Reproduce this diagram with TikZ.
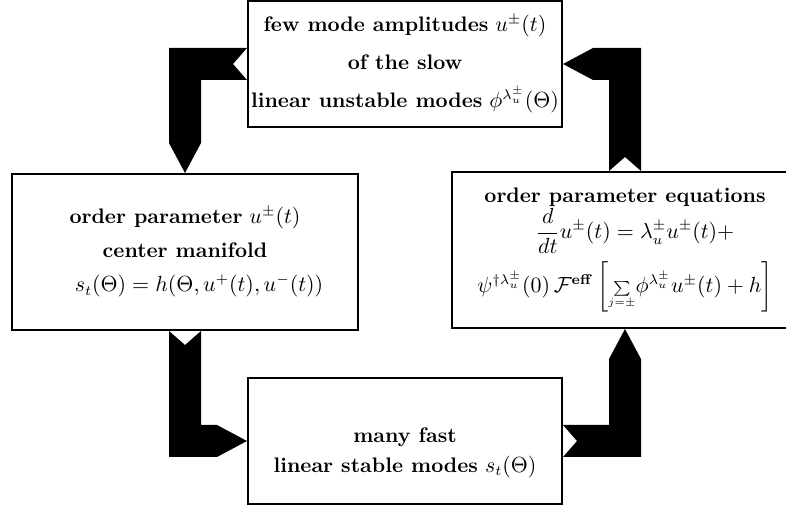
\documentclass[tikz,border=0pt]{standalone}
\usepackage{amsmath}
\usepackage{amssymb}
\usepackage{tikz}
\usetikzlibrary{calc, positioning}

\begin{document}
\begin{tikzpicture}[x=0.5pt, y=-0.5pt, every node/.style={font=\fontsize{10.5pt}{12.6pt}\selectfont}]
    \tikzset{
      modebox/.style={rectangle, draw=black, line width=1pt, fill=white,
                      align=center, inner sep=0pt},
      flow/.style={fill=black}}
    \useasboundingbox (0,0) rectangle (786,506);
    \node[modebox, minimum width=157pt, minimum height=63pt] (slow) at (405,64)
      {\textbf{few mode amplitudes} $u^{\pm}(t)$\\[6.3pt]
       \textbf{of the slow}\\[6.3pt]
       \textbf{linear unstable modes} $\phi^{\lambda_u^{\pm}}(\Theta)$};
    \node[modebox, minimum width=173pt, minimum height=78pt] (manifold) at (185,252)
      {\textbf{order parameter} $u^{\pm}(t)$\\[4.5pt]
       \textbf{center manifold}\\[4.5pt]
       \hspace*{14pt}$s_t(\Theta)=h(\Theta,u^{+}(t),u^{-}(t))$};
    \node[modebox, minimum width=173pt, minimum height=78pt] (opeq) at (625,250)
      {\textbf{order parameter equations}\\[0pt]
       \hspace*{10pt}$\displaystyle\frac{d}{dt}u^{\pm}(t)=\lambda_u^{\pm}u^{\pm}(t)+$\\[3pt]
       $\psi^{\dagger\lambda_u^{\pm}}(0)\,\mathcal{F}^{\mathbf{eff}}
        \left[{\scriptstyle\sum\limits_{j=\pm}}\phi^{\lambda_u^{\pm}}u^{\pm}(t)+h\right]$};
    \node[modebox, minimum width=157pt, minimum height=63pt] (fast) at (405,441)
      {\rule{0pt}{19pt}\textbf{many fast}\\[2.5pt]
       \textbf{linear stable modes} $s_t(\Theta)$};
    % slow modes -> center manifold
    \fill[flow] let \p1=(slow.west), \p2=(manifold.north) in
      (\x1,\y1+8pt) -- (\x2-8pt,\y1+8pt) -- (\x2-8pt,\y2+15pt) -- (\x2,\y2)
      -- (\x2+8pt,\y2+15pt) -- (\x2+8pt,\y1-8pt) -- (\x1,\y1-8pt) -- (\x1-7pt,\y1) -- cycle;
    % center manifold -> fast modes
    \fill[flow] let \p1=(manifold.south), \p2=(fast.west) in
      (\x1-8pt,\y1) -- (\x1,\y1-7pt) -- (\x1+8pt,\y1) -- (\x1+8pt,\y2+8pt)
      -- (\x2-15pt,\y2+8pt) -- (\x2,\y2) -- (\x2-15pt,\y2-8pt) -- (\x1-8pt,\y2-8pt) -- cycle;
    % fast modes -> order parameter equations
    \fill[flow] let \p1=(fast.east), \p2=(opeq.south) in
      (\x1,\y1+8pt) -- (\x1+7pt,\y1) -- (\x1,\y1-8pt) -- (\x2+8pt,\y1-8pt)
      -- (\x2+8pt,\y2-15pt) -- (\x2,\y2) -- (\x2-8pt,\y2-15pt) -- (\x2-8pt,\y1+8pt) -- cycle;
    % order parameter equations -> slow modes
    \fill[flow] let \p1=(opeq.north), \p2=(slow.east) in
      (\x1-8pt,\y1) -- (\x1-8pt,\y2-8pt) -- (\x2+15pt,\y2-8pt) -- (\x2,\y2)
      -- (\x2+15pt,\y2+8pt) -- (\x1+8pt,\y2+8pt) -- (\x1+8pt,\y1) -- (\x1,\y1+7pt) -- cycle;
  \end{tikzpicture}
\end{document}
